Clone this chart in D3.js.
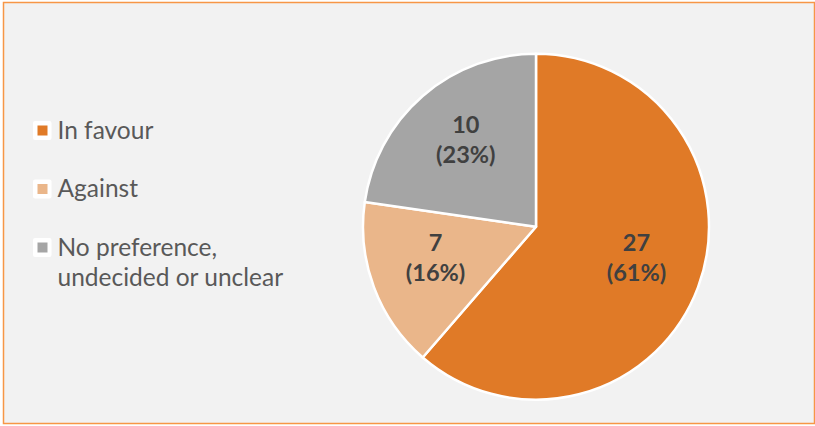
<!DOCTYPE html>
<html><head><meta charset="utf-8">
<script src="https://cdn.jsdelivr.net/npm/d3@7"></script>
<style>html,body{margin:0;padding:0;background:#fff;}svg{display:block;}</style>
</head><body>
<script>
const categories = ["In favour", "Against", "No preference, undecided or unclear"];
const legendLines = [["In favour"], ["Against"], ["No preference,", "undecided or unclear"]];
const values = [27, 7, 10];
const percents = ["61%", "16%", "23%"];
const colors = ["#E07A27", "#EAB68A", "#A5A5A5"];

const W = 815, H = 426;
const svg = d3.select("body").append("svg").attr("width", W).attr("height", H);
svg.append("rect").attr("x", 3.5).attr("y", 2.5).attr("width", 811).attr("height", 421)
  .attr("fill", "#F2F2F2").attr("stroke", "#F79646").attr("stroke-width", 1.5);

const cx = 536, cy = 226.7, R = 173;
const pie = d3.pie().sort(null).value(d => d)(values);
const arc = d3.arc().innerRadius(0).outerRadius(R);
const labelArc = d3.arc().innerRadius(R * 0.62).outerRadius(R * 0.62);
const g = svg.append("g").attr("transform", `translate(${cx},${cy})`);
g.selectAll("path").data(pie).join("path")
  .attr("d", arc).attr("fill", (d, i) => colors[i])
  .attr("stroke", "#fff").attr("stroke-width", 2.5).attr("stroke-linejoin", "round");

const labels = g.selectAll("text.lbl").data(pie).join("text").attr("class", "lbl")
  .attr("font-family", "Lato, 'Open Sans', sans-serif").attr("font-weight", "bold")
  .attr("font-size", 23.5).attr("fill", "#404040").attr("text-anchor", "middle")
  .attr("transform", d => { const c = labelArc.centroid(d); return `translate(${c[0]},${c[1] - 6})`; });
labels.append("tspan").attr("x", 0).attr("y", -7).text((d, i) => values[i]);
labels.append("tspan").attr("x", 0).attr("y", 23).text((d, i) => `(${percents[i]})`);

const ly = d3.scalePoint().domain(categories).range([130.5, 247.5]);
const leg = svg.append("g").selectAll("g").data(categories).join("g")
  .attr("transform", d => `translate(0,${ly(d)})`);
leg.append("rect").attr("x", 33).attr("y", -9.5).attr("width", 18.5).attr("height", 19)
  .attr("rx", 2).attr("fill", "#fff");
leg.append("rect").attr("x", 37.5).attr("y", -5).attr("width", 10).attr("height", 10)
  .attr("fill", (d, i) => colors[i]);
const lt = leg.append("text").attr("font-family", "Lato, 'Open Sans', sans-serif")
  .attr("font-size", 24.5).attr("fill", "#595959");
lt.selectAll("tspan").data((d, i) => legendLines[i]).join("tspan")
  .attr("x", 57.5).attr("y", (d, j) => 8 + j * 30).text(d => d);
</script>
</body></html>
